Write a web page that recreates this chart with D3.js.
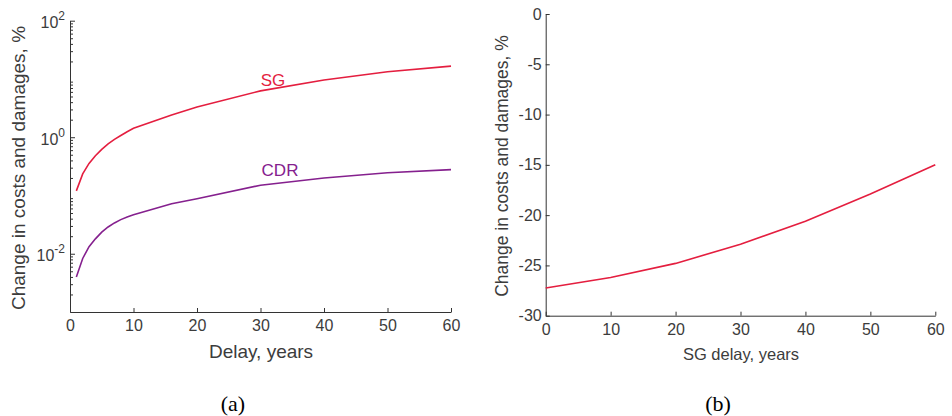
<!DOCTYPE html>
<html>
<head>
<meta charset="utf-8">
<script src="https://cdn.jsdelivr.net/npm/d3@7"></script>
<style>
  body { margin: 0; background: #fff; }
  svg text { font-family: "Liberation Sans", Arial, sans-serif; fill: #3c3c3c; }
  .axis path, .axis line { stroke: #333; }
</style>
</head>
<body>
<script>
// panel (a): delay in years, change in %
var delays = [1, 2, 3, 4, 5, 6, 7, 8, 9, 10, 16, 20, 30, 40, 50, 60];
var sgChange = [0.12, 0.235, 0.355, 0.48, 0.62, 0.77, 0.92, 1.07, 1.24, 1.42, 2.4, 3.3, 6.25, 9.6, 13.3, 16.6];
var cdrChange = [0.0040, 0.0083, 0.0132, 0.018, 0.0235, 0.0288, 0.0338, 0.0385, 0.0428, 0.0465, 0.072, 0.088, 0.15, 0.20, 0.245, 0.278];
var logTicks = [1e-2, 1e0, 1e2];
var logTickExp = ["-2", "0", "2"];

// panel (b)
var sgDelays = [0, 10, 20, 30, 40, 50, 60];
var sgOnlyChange = [-27.25, -26.2, -24.8, -22.9, -20.6, -17.9, -15.0];
var linTicks = [0, -5, -10, -15, -20, -25, -30];
var xTicks = [0, 10, 20, 30, 40, 50, 60];

var width = 952;
var height = 416;
var colorSG = "#e41e3f";
var colorCDR = "#85208e";

var svg = d3.select("body")
    .append("svg")
    .attr("width", width)
    .attr("height", height);

// ---------- panel (a) ----------
var xA = d3.scaleLinear().domain([0, 60]).range([70, 451]);
var yA = d3.scaleLog().domain([1e-3, 1e2]).range([312, 20.7]);

var minorVals = [];
[-3, -2, -1, 0, 1].forEach(function(e) {
    for (var m = 2; m <= 9; m++) minorVals.push(m * Math.pow(10, e));
});

svg.append("g")
    .attr("class", "axis")
    .attr("transform", "translate(70,0)")
    .call(d3.axisLeft(yA).tickValues(minorVals).tickSizeInner(-3).tickSizeOuter(0).tickFormat(""));

var gyA = svg.append("g")
    .attr("class", "axis")
    .attr("transform", "translate(70,0)")
    .call(d3.axisLeft(yA).tickValues(logTicks).tickSizeInner(-5).tickSizeOuter(0).tickFormat(""));

gyA.selectAll(".tick").each(function(d, i) {
    var t = d3.select(this).append("text")
        .attr("x", -15)
        .attr("y", 7)
        .attr("text-anchor", "end")
        .style("font-size", "16px");
    t.append("tspan").text("10");
    t.append("tspan")
        .attr("dy", -8)
        .style("font-size", "12px")
        .text(logTickExp[i]);
});
gyA.selectAll(".tick text").attr("x", -5).attr("fill", "#3c3c3c");

svg.append("g")
    .attr("class", "axis")
    .attr("transform", "translate(0,312)")
    .call(d3.axisBottom(xA).tickValues(xTicks).tickSizeInner(-4).tickSizeOuter(0).tickPadding(8))
    .selectAll("text")
    .attr("fill", "#3c3c3c")
    .style("font-size", "16px");

var lineA = function(vals) {
    return d3.line()
        .x(function(d, i) { return xA(delays[i]); })
        .y(function(d) { return yA(d); })(vals);
};

svg.append("path").attr("d", lineA(sgChange))
    .attr("fill", "none").attr("stroke", colorSG).attr("stroke-width", 1.6);
svg.append("path").attr("d", lineA(cdrChange))
    .attr("fill", "none").attr("stroke", colorCDR).attr("stroke-width", 1.6);

svg.append("text").attr("x", 273).attr("y", 86).attr("text-anchor", "middle")
    .style("font-size", "17px").style("fill", colorSG).text("SG");
svg.append("text").attr("x", 280).attr("y", 176).attr("text-anchor", "middle")
    .style("font-size", "17px").style("fill", colorCDR).text("CDR");

svg.append("text")
    .attr("x", 261)
    .attr("y", 358)
    .attr("text-anchor", "middle")
    .style("font-size", "19px")
    .text("Delay, years");

svg.append("text")
    .attr("transform", "translate(25,168) rotate(-90)")
    .attr("text-anchor", "middle")
    .style("font-size", "19px")
    .text("Change in costs and damages, %");

// ---------- panel (b) ----------
var xB = d3.scaleLinear().domain([0, 60]).range([545.7, 935.3]);
var yB = d3.scaleLinear().domain([-30, 0]).range([315.7, 14]);

svg.append("g")
    .attr("class", "axis")
    .attr("transform", "translate(545.7,0)")
    .call(d3.axisLeft(yB).tickValues(linTicks).tickSizeInner(-4).tickSizeOuter(0).tickPadding(4)
        .tickFormat(function(d) { return String(d); }))
    .selectAll("text")
    .attr("fill", "#3c3c3c")
    .style("font-size", "16px");

svg.append("g")
    .attr("class", "axis")
    .attr("transform", "translate(0,315.7)")
    .call(d3.axisBottom(xB).tickValues(xTicks).tickSizeInner(-4).tickSizeOuter(0).tickPadding(8))
    .selectAll("text")
    .attr("fill", "#3c3c3c")
    .style("font-size", "16px");

svg.append("path")
    .attr("d", d3.line()
        .x(function(d, i) { return xB(sgDelays[i]); })
        .y(function(d) { return yB(d); })(sgOnlyChange))
    .attr("fill", "none").attr("stroke", colorSG).attr("stroke-width", 1.6);

svg.append("text")
    .attr("x", 741)
    .attr("y", 360)
    .attr("text-anchor", "middle")
    .style("font-size", "16.5px")
    .text("SG delay, years");

svg.append("text")
    .attr("transform", "translate(508,166) rotate(-90)")
    .attr("text-anchor", "middle")
    .style("font-size", "17.5px")
    .text("Change in costs and damages, %");

// subfigure tags
svg.append("text").attr("x", 233).attr("y", 411).attr("text-anchor", "middle")
    .style("font-family", "'Liberation Serif', 'Times New Roman', serif")
    .style("font-size", "22px").style("fill", "#000").text("(a)");
svg.append("text").attr("x", 718).attr("y", 411).attr("text-anchor", "middle")
    .style("font-family", "'Liberation Serif', 'Times New Roman', serif")
    .style("font-size", "22px").style("fill", "#000").text("(b)");
</script>
</body>
</html>
